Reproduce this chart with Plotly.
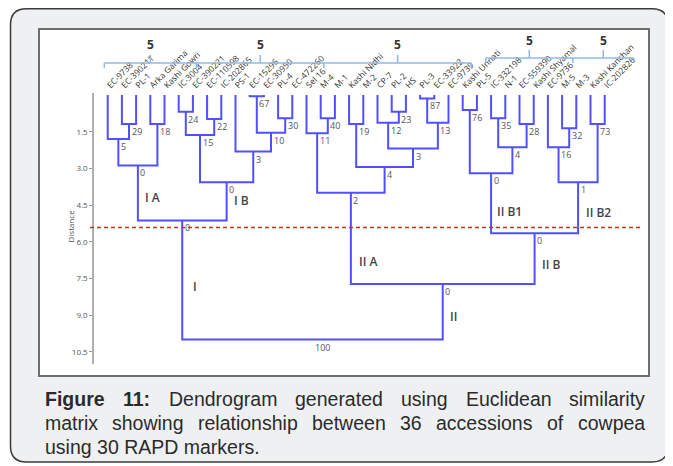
import plotly.graph_objects as go

# the page body has an 8px margin, so the figure is drawn 8px in from the window corner
OFF = 8
W, H = 673 - OFF, 466 - OFF

# ---------------- data ----------------
leaves = ["EC-9738", "EC-390211", "PL-1", "Arka Garima", "Kashi Gowri", "IC-3004",
          "EC-390221", "EC-110598", "IC-202865", "PS-1", "EC-15296", "EC-30950",
          "PL-4", "EC-472260", "Sel 16", "M-4", "M-1", "Kashi Nidhi", "M-2", "CP-7",
          "PL-2", "HS", "PL-3", "EC-33922", "EC-9739", "Kashi Unnati", "PL-5",
          "IC-332198", "N-1", "EC-559390", "Kashi Shyamal", "EC-9736", "M-5", "M-3",
          "Kashi Kanchan", "IC-202826"]

# merge k creates node id 36+k from (merge_left[k], merge_right[k])
merge_left = [1, 0, 3, 37, 5, 7, 40, 10, 12, 43, 9, 42, 39, 15, 14, 17, 20, 19, 22, 54,
              53, 51, 50, 25, 27, 29, 60, 59, 32, 31, 34, 65, 63, 58, 48]
merge_right = [2, 36, 4, 38, 6, 8, 41, 11, 13, 44, 45, 46, 47, 16, 49, 18, 21, 52, 23, 24,
               55, 56, 57, 26, 28, 30, 61, 62, 33, 64, 35, 66, 67, 68, 69]
merge_height = [1.18, 1.80, 1.18, 2.88, 0.68, 0.98, 1.63, 0.05, 0.95, 1.54,
                2.31, 3.57, 5.13, 0.95, 1.56, 1.18, 0.68, 1.13, 0.14, 1.13,
                2.19, 2.94, 4.00, 0.61, 0.95, 1.18, 2.14, 3.20, 1.36, 2.14,
                1.18, 3.57, 5.65, 7.73, 10.00]
merge_support = ["29", "5", "18", "0", "24", "22", "15", "67", "30", "10",
                 "3", "0", "0", "40", "11", "19", "23", "12", "87", "13",
                 "3", "4", "2", "76", "35", "28", "4", "0", "32", "16",
                 "73", "1", "0", "0", "100"]

cluster_names = ["I A", "I B", "I", "II A", "II", "II B1", "II B2", "II B"]
cut_distance = 5.42

y_ticks = [1.5, 3.0, 4.5, 6.0, 7.5, 9.0, 10.5]

group_counts_1 = ["5", "5", "5"]
group_edges_1 = [0.76, 7.25, 16.23, 26.61]
group_counts_2 = ["5", "5"]
group_edges_2 = [27.62, 33.76, 38.04]

caption_lines = [
    ["<b>Figure</b>", "<b>11:</b>", "Dendrogram", "generated", "using", "Euclidean", "similarity"],
    ["matrix", "showing", "relationship", "between", "36", "accessions", "of", "cowpea"],
    ["using 30 RAPD markers."],
]

# ---------------- build dendrogram geometry ----------------
pos = [i + 1 for i in range(len(leaves))]
hgt = [0.0] * len(leaves)
lx, ly = [], []
for a, b, h in zip(merge_left, merge_right, merge_height):
    xa, xb = pos[a], pos[b]
    lx += [xa, xa, xb, xb, None]
    ly += [hgt[a], h, h, hgt[b], None]
    pos.append((xa + xb) / 2)
    hgt.append(h)

fig = go.Figure()
fig.add_trace(go.Scatter(x=lx, y=ly, mode="lines",
                         line=dict(color="#5050ff", width=2), hoverinfo="skip",
                         showlegend=False))


def px_x(p):
    return (p - OFF) / W


def px_y(p):
    return 1 - (p - OFF) / H


# plot area in window pixels
PL, PR, PT, PB = 89, 645, 92.6, 364
LEAF0, STEP = 107.7, 14.2
x_range = [1 + (PL - LEAF0) / STEP, 1 + (PR - LEAF0) / STEP]

annotations = []
# support values
for k, s in enumerate(merge_support):
    annotations.append(dict(x=pos[36 + k], y=merge_height[k], text=s, showarrow=False,
                            xanchor="left", yanchor="top", xshift=0.5, yshift=1,
                            font=dict(family="Open Sans", size=9, color="#555555")))

# cluster tags
tag_xy = [(3.46, 4.17), (9.73, 4.31), (6.85, 7.81), (18.54, 6.80), (24.99, 9.04),
          (28.27, 4.77), (34.54, 4.82), (31.44, 6.95)]
for name, (tx, ty) in zip(cluster_names, tag_xy):
    annotations.append(dict(x=tx, y=ty, text=name, showarrow=False, xanchor="left",
                            yanchor="middle",
                            font=dict(family="Open Sans", size=12, color="#444444",
                                      weight=600)))

# y axis title
annotations.append(dict(x=px_x(69.5), y=px_y(226), xref="paper", yref="paper",
                        text="Distance", textangle=-90, showarrow=False,
                        xanchor="center", yanchor="middle",
                        font=dict(family="Open Sans", size=8, color="#555555")))

shapes = []


def rounded(x0, y0, x1, y1, r):
    pts = [("M", x0 + r, y0), ("L", x1 - r, y0), ("Q", x1, y0, x1, y0 + r),
           ("L", x1, y1 - r), ("Q", x1, y1, x1 - r, y1), ("L", x0 + r, y1),
           ("Q", x0, y1, x0, y1 - r), ("L", x0, y0 + r), ("Q", x0, y0, x0 + r, y0)]
    out = []
    for p in pts:
        cmd, nums = p[0], p[1:]
        coords = []
        for i in range(0, len(nums), 2):
            coords.append(f"{px_x(nums[i]):.5f},{px_y(nums[i + 1]):.5f}")
        out.append(cmd + " ".join(coords))
    return " ".join(out) + " Z"


# card and image frame
shapes.append(dict(type="path", xref="paper", yref="paper",
                   path=rounded(10.5, 8.8, 668, 462, 16), fillcolor="#eff0f2",
                   line=dict(color="#3a3a3a", width=1.5), layer="below"))
shapes.append(dict(type="rect", xref="paper", yref="paper",
                   x0=px_x(39), x1=px_x(649), y0=px_y(376), y1=px_y(29),
                   fillcolor="white", line=dict(color="#6e6e6e", width=2), layer="below"))

# cut line
shapes.append(dict(type="line", xref="paper", yref="y", x0=px_x(90), x1=px_x(643),
                   y0=cut_distance, y1=cut_distance,
                   line=dict(color="#ff1a1a", width=1.6, dash="4px,3px")))

# group brackets
BR = "#8fb8e6"
for edges, counts, ybar, center_lab in [(group_edges_1, group_counts_1, 62.9, 44.3),
                                        (group_edges_2, group_counts_2, 57.9, 40.7)]:
    shapes.append(dict(type="line", xref="x", yref="paper", x0=edges[0], x1=edges[-1],
                       y0=px_y(ybar), y1=px_y(ybar), line=dict(color=BR, width=1.5)))
    for e in edges:
        shapes.append(dict(type="line", xref="x", yref="paper", x0=e, x1=e,
                           y0=px_y(ybar), y1=px_y(ybar + 5), line=dict(color=BR, width=1.5)))
    for i, c in enumerate(counts):
        mid = (edges[i] + edges[i + 1]) / 2
        shapes.append(dict(type="line", xref="x", yref="paper", x0=mid, x1=mid,
                           y0=px_y(ybar), y1=px_y(ybar - 8), line=dict(color=BR, width=1.5)))
        annotations.append(dict(x=mid, y=px_y(center_lab), xref="x", yref="paper", text=c,
                                showarrow=False, xanchor="center", yanchor="middle",
                                font=dict(family="Open Sans", size=12, color="#333333",
                                          weight=700)))

# caption (justified)
AW = {' ': 278, '.': 278, ':': 278, '-': 333, 'a': 556, 'b': 556, 'c': 500, 'd': 556,
      'e': 556, 'f': 278, 'g': 556, 'h': 556, 'i': 222, 'j': 222, 'k': 500, 'l': 222,
      'm': 833, 'n': 556, 'o': 556, 'p': 556, 'q': 556, 'r': 333, 's': 500, 't': 278,
      'u': 556, 'v': 500, 'w': 722, 'x': 500, 'y': 500, 'z': 500, 'A': 667, 'D': 722,
      'E': 667, 'F': 611, 'P': 667, 'R': 722}
ABW = {'F': 611, 'i': 278, 'g': 611, 'u': 611, 'r': 389, 'e': 556, '1': 556, ':': 333}
CAP_FONT = 19.5
CAP_FAMILY = "Liberation Sans, Arial, sans-serif"


def word_w(wd):
    bold = wd.startswith("<b>")
    s = wd.replace("<b>", "").replace("</b>", "")
    tbl = ABW if bold else AW
    return sum(tbl.get(ch, 556) for ch in s) / 1000 * CAP_FONT


CL, CR = 43, 643
line_y = [399, 423, 447]
for li, words in enumerate(caption_lines):
    if li < 2:
        widths = [word_w(w) for w in words]
        gap = (CR - CL - sum(widths)) / (len(words) - 1)
        xcur = CL
        for w, ww in zip(words, widths):
            annotations.append(dict(x=px_x(xcur), y=px_y(line_y[li]), xref="paper",
                                    yref="paper", text=w, showarrow=False, xanchor="left",
                                    yanchor="middle",
                                    font=dict(family=CAP_FAMILY, size=CAP_FONT,
                                              color="#2b2b2b")))
            xcur += ww + gap
    else:
        annotations.append(dict(x=px_x(CL), y=px_y(line_y[li]), xref="paper", yref="paper",
                                text=words[0], showarrow=False, xanchor="left",
                                yanchor="middle",
                                font=dict(family=CAP_FAMILY, size=CAP_FONT, color="#2b2b2b")))

fig.update_layout(
    template="none",
    width=W, height=H, autosize=False,
    margin=dict(l=0, r=0, t=0, b=0, pad=0),
    paper_bgcolor="white", plot_bgcolor="rgba(0,0,0,0)",
    showlegend=False,
    shapes=shapes, annotations=annotations,
    xaxis=dict(domain=[px_x(PL), px_x(PR)], range=x_range, side="top", anchor="y",
               tickmode="array", tickvals=list(range(1, len(leaves) + 1)), ticktext=leaves,
               tickangle=-45, ticks="", showline=False, showgrid=False, zeroline=False,
               automargin=False,
               tickfont=dict(family="Open Sans", size=8.5, color="#333333")),
    yaxis=dict(domain=[px_y(PB), px_y(PT)], range=[11.0, -0.1], anchor="free",
               position=px_x(93), tickmode="array", tickvals=y_ticks, tickformat=".1f",
               ticks="outside", ticklen=3, tickcolor="#999999", tickwidth=1,
               showline=True, linecolor="#b0b0b0", linewidth=1.5, showgrid=False,
               zeroline=False, automargin=False,
               tickfont=dict(family="Open Sans", size=8, color="#555555")),
)

fig.write_html("out.html", config={"displayModeBar": False})
